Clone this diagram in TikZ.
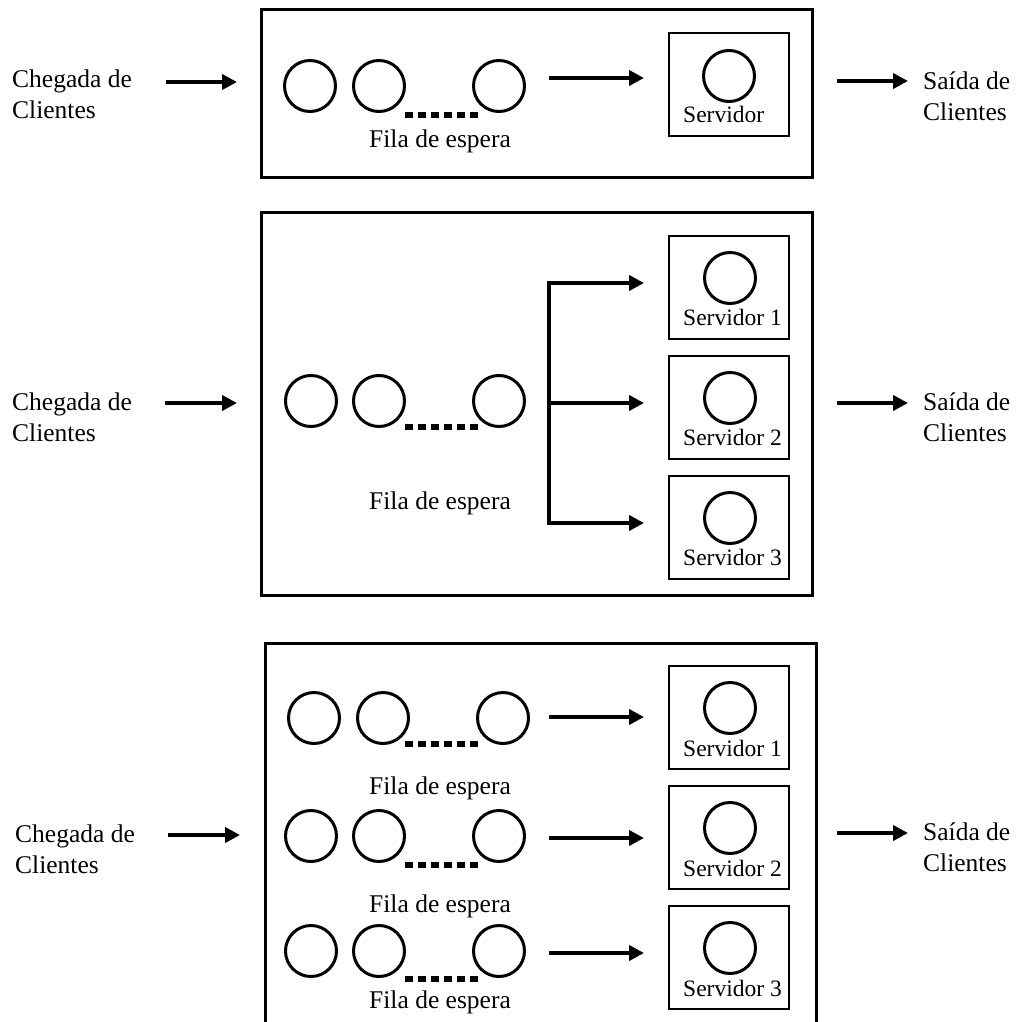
\documentclass[tikz,border=0pt]{standalone}
\usepackage{fontspec}
\setmainfont{Liberation Serif}
\usetikzlibrary{arrows.meta}
\newcommand{\twolines}[2]{\begin{tabular}[t]{@{}l@{}}#1\\#2\end{tabular}}
\begin{document}
\begin{tikzpicture}[x=1pt,y=-1pt,
  panel/.style={draw,line width=3pt,inner sep=0pt},
  qc/.style={circle,draw,line width=3pt,minimum size=51pt,inner sep=0pt},
  sbox/.style={draw,line width=2pt,minimum width=120pt,minimum height=103pt,inner sep=0pt},
  arr/.style={line width=4.8pt,-{Triangle[length=15pt,width=15pt]}},
  dotline/.style={line width=6pt,dash pattern=on 8pt off 5pt},
  lbl/.style={inner sep=0pt,anchor=base west,font=\fontsize{25.5}{31}\selectfont},
  slbl/.style={inner sep=0pt,anchor=base west,font=\fontsize{23.5}{28}\selectfont},
]
\useasboundingbox (0,0) rectangle (1018,1022);

% ================= Panel 1 =================
\node[panel,minimum width=551pt,minimum height=167pt] (P1) at (536.5,93.5) {};
\node[lbl] (ch1) at (12,88) {\twolines{Chegada de}{Clientes}};
\coordinate (in1s) at (166,82); \coordinate (in1e) at (237,82);
\draw[arr] (in1s) -- (in1e);
\node[qc] (q1a) at (310,86) {};
\node[qc] (q1b) at (379,86) {};
\node[qc] (q1c) at (499,86) {};
\coordinate (d1s) at (405,115); \coordinate (d1e) at (478,115);
\draw[dotline] (d1s) -- (d1e);
\node[lbl] (f1) at (369,147) {Fila de espera};
\coordinate (a1s) at (549,78); \coordinate (a1e) at (644,78);
\draw[arr] (a1s) -- (a1e);
\node[sbox] (S1) at (729,84.5) {};
\node[qc] (s1c) at (729,76) {};
\node[slbl] (s1t) at (683,123) {Servidor};
\coordinate (o1s) at (837,81); \coordinate (o1e) at (908,81);
\draw[arr] (o1s) -- (o1e);
\node[lbl] (sa1) at (923,90) {\twolines{Saída de}{Clientes}};

% ================= Panel 2 =================
\node[panel,minimum width=551pt,minimum height=383pt] (P2) at (536.5,403.5) {};
\node[lbl] (ch2) at (12,410) {\twolines{Chegada de}{Clientes}};
\coordinate (in2s) at (165,403); \coordinate (in2e) at (237,403);
\draw[arr] (in2s) -- (in2e);
\node[qc] (q2a) at (311,401) {};
\node[qc] (q2b) at (379,401) {};
\node[qc] (q2c) at (499,401) {};
\coordinate (d2s) at (405,427); \coordinate (d2e) at (478,427);
\draw[dotline] (d2s) -- (d2e);
\node[lbl] (f2) at (369,509) {Fila de espera};
\coordinate (v1) at (549,283); \coordinate (v2) at (549,403); \coordinate (v3) at (549,523);
\draw[line width=4pt,line cap=rect] (v1) -- (v3);
\coordinate (t1) at (644,283); \coordinate (t2) at (644,403); \coordinate (t3) at (644,523);
\draw[arr] (v1) -- (t1);
\draw[arr] (v2) -- (t2);
\draw[arr] (v3) -- (t3);
\node[sbox] (S21) at (729,287) {};
\node[sbox] (S22) at (729,407) {};
\node[sbox] (S23) at (729,527) {};
\node[qc] (s21c) at (730,278) {};
\node[qc] (s22c) at (730,398) {};
\node[qc] (s23c) at (730,518) {};
\node[slbl] (s21t) at (683,325) {Servidor 1};
\node[slbl] (s22t) at (683,445) {Servidor 2};
\node[slbl] (s23t) at (683,565) {Servidor 3};
\coordinate (o2s) at (837,403); \coordinate (o2e) at (908,403);
\draw[arr] (o2s) -- (o2e);
\node[lbl] (sa2) at (923,410) {\twolines{Saída de}{Clientes}};

% ================= Panel 3 =================
\coordinate (P3bl) at (265,1030); \coordinate (P3tl) at (265,643);
\coordinate (P3tr) at (816,643); \coordinate (P3br) at (816,1030);
\draw[line width=3pt] (P3bl) -- (P3tl) -- (P3tr) -- (P3br);
\node[lbl] (ch3) at (15,842) {\twolines{Chegada de}{Clientes}};
\coordinate (in3s) at (168,835); \coordinate (in3e) at (240,835);
\draw[arr] (in3s) -- (in3e);
% row 1
\node[qc] (q31a) at (314,718) {};
\node[qc] (q31b) at (383,718) {};
\node[qc] (q31c) at (503,718) {};
\coordinate (d31s) at (405,744); \coordinate (d31e) at (478,744);
\draw[dotline] (d31s) -- (d31e);
\node[lbl] (f31) at (369,794) {Fila de espera};
% row 2
\node[qc] (q32a) at (311,836) {};
\node[qc] (q32b) at (379,836) {};
\node[qc] (q32c) at (499,836) {};
\coordinate (d32s) at (405,865); \coordinate (d32e) at (478,865);
\draw[dotline] (d32s) -- (d32e);
\node[lbl] (f32) at (369,912) {Fila de espera};
% row 3
\node[qc] (q33a) at (311,951) {};
\node[qc] (q33b) at (379,951) {};
\node[qc] (q33c) at (499,951) {};
\coordinate (d33s) at (405,979); \coordinate (d33e) at (478,979);
\draw[dotline] (d33s) -- (d33e);
\node[lbl] (f33) at (369,1008) {Fila de espera};
% arrows
\coordinate (r1s) at (549,717); \coordinate (r1e) at (644,717);
\coordinate (r2s) at (549,838); \coordinate (r2e) at (644,838);
\coordinate (r3s) at (549,953); \coordinate (r3e) at (644,953);
\draw[arr] (r1s) -- (r1e);
\draw[arr] (r2s) -- (r2e);
\draw[arr] (r3s) -- (r3e);
% servers
\node[sbox] (S31) at (729,717) {};
\node[sbox] (S32) at (729,837) {};
\node[sbox] (S33) at (729,957) {};
\node[qc] (s31c) at (730,708) {};
\node[qc] (s32c) at (730,828) {};
\node[qc] (s33c) at (730,948) {};
\node[slbl] (s31t) at (683,756) {Servidor 1};
\node[slbl] (s32t) at (683,876) {Servidor 2};
\node[slbl] (s33t) at (683,996) {Servidor 3};
\coordinate (o3s) at (837,833); \coordinate (o3e) at (908,833);
\draw[arr] (o3s) -- (o3e);
\node[lbl] (sa3) at (923,840) {\twolines{Saída de}{Clientes}};
\end{tikzpicture}
\end{document}
